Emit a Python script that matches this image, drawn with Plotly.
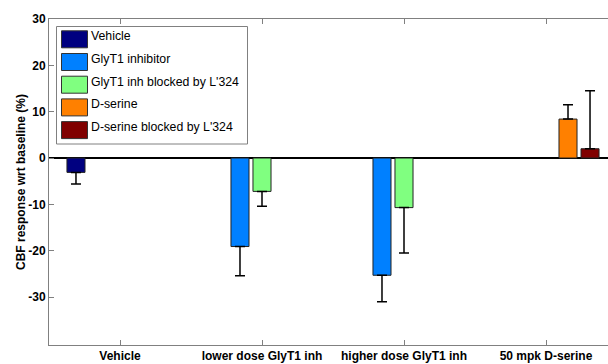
import plotly.graph_objects as go

categories = ["Vehicle", "lower dose GlyT1 inh", "higher dose GlyT1 inh", "50 mpk D-serine"]
series_names = ["Vehicle", "GlyT1 inhibitor", "GlyT1 inh blocked by L'324", "D-serine", "D-serine blocked by L'324"]
vehicle = [-3.1, None, None, None]
glyt1 = [None, -19.1, -25.3, None]
glyt1_blocked = [None, -7.2, -10.7, None]
dserine = [None, None, None, 8.4]
dserine_blocked = [None, None, None, 2.0]
vehicle_err = [2.5, None, None, None]
glyt1_err = [None, 6.3, 5.7, None]
glyt1_blocked_err = [None, 3.2, 9.8, None]
dserine_err = [None, None, None, 3.1]
dserine_blocked_err = [None, None, None, 12.5]
y_ticks = [-30, -20, -10, 0, 10, 20, 30]
y_tick_labels = ["-30", "-20", "-10", "0", "10", "20", "30"]

colors = ["#000080", "#0080FF", "#80FF80", "#FF8000", "#800000"]
values = [vehicle, glyt1, glyt1_blocked, dserine, dserine_blocked]
errors = [vehicle_err, glyt1_err, glyt1_blocked_err, dserine_err, dserine_blocked_err]

W, H = 608, 364
ML, MR, MT, MB = 49, 0, 19, 19
PW, PH = W - ML - MR, H - MT - MB

def px(x):
    return (x - ML) / PW

def py(y):
    return (H - MB - y) / PH

fig = go.Figure()
for name, vals, errs, col in zip(series_names, values, errors, colors):
    plus = [(e if (v is not None and v > 0) else 0) if e is not None else None for v, e in zip(vals, errs)]
    minus = [(e if (v is not None and v < 0) else 0) if e is not None else None for v, e in zip(vals, errs)]
    fig.add_trace(go.Bar(
        x=categories, y=vals, name=name,
        marker=dict(color=col, line=dict(color="#222222", width=1)),
        error_y=dict(type="data", symmetric=False, array=plus, arrayminus=minus,
                     color="black", thickness=1.5, width=5),
        showlegend=False,
    ))

shapes = []
annotations = []
# legend box
shapes.append(dict(type="rect", xref="paper", yref="paper",
                   x0=px(56.5), x1=px(247.5), y0=py(144), y1=py(26.5),
                   line=dict(color="#808080", width=1), fillcolor="white", layer="above"))
for i, (name, col) in enumerate(zip(series_names, colors)):
    cy = 39.3 + 22.7 * i
    shapes.append(dict(type="rect", xref="paper", yref="paper",
                       x0=px(61.5), x1=px(87.5), y0=py(cy + 8.5), y1=py(cy - 8.5),
                       line=dict(color="#333333", width=1), fillcolor=col, layer="above"))
    annotations.append(dict(xref="paper", yref="paper", x=px(89), y=py(cy - 3),
                            xanchor="left", yanchor="middle", showarrow=False,
                            text=name, font=dict(family="Liberation Sans, Arial", size=12.3, color="black")))

fig.update_layout(
    width=W, height=H,
    margin=dict(l=ML, r=MR, t=MT, b=MB, pad=0),
    paper_bgcolor="white", plot_bgcolor="white",
    barmode="group", bargap=0.225, bargroupgap=0.18,
    font=dict(family="Liberation Sans, Arial", size=12, color="black"),
    shapes=shapes, annotations=annotations,
    xaxis=dict(
        range=[-0.5, -0.5 + PW / 142.0], type="category",
        showline=True, linecolor="#808080", linewidth=1, mirror="ticks",
        ticks="inside", ticklen=5, tickcolor="#808080",
        showgrid=False, zeroline=False,
        tickfont=dict(family="Liberation Sans, Arial", size=12, color="black", weight="bold"),
        automargin=False, fixedrange=True,
    ),
    yaxis=dict(
        range=[-40.35, 30], tickvals=y_ticks, ticktext=y_tick_labels,
        showline=True, linecolor="#808080", linewidth=1,
        ticks="inside", ticklen=5, tickcolor="#808080",
        showgrid=False, zeroline=True, zerolinecolor="black", zerolinewidth=2,
        tickfont=dict(family="Liberation Sans, Arial", size=12, color="black", weight="bold"),
        title=dict(text="CBF response wrt baseline (%)", standoff=0,
                   font=dict(family="Liberation Sans, Arial", size=12, color="black", weight="bold")),
        automargin=False, fixedrange=True,
    ),
)

fig.write_html("out.html", config={"displayModeBar": False},
               post_script="document.body.style.margin='0';document.body.style.padding='0';")
